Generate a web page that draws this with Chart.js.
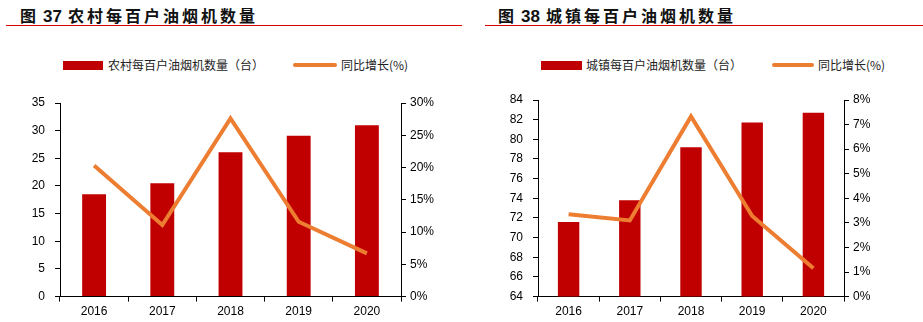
<!DOCTYPE html>
<html>
<head>
<meta charset="utf-8">
<script src="https://cdn.jsdelivr.net/npm/chart.js@4"></script>
<style>
  body { margin: 0; width: 923px; height: 322px; background: #fff; position: relative; overflow: hidden;
         font-family: "Liberation Sans", Arial, sans-serif; }
  .title { position: absolute; top: 3px; font-family: "Noto Sans CJK SC", sans-serif; font-weight: bold;
           font-size: 16px; color: #111; white-space: nowrap; }
  .title .cn { letter-spacing: 3px; }
  .title b { font-family: "Liberation Sans", Arial, sans-serif; margin: 0 6px 0 7px; font-size: 17px; }
  .rule { position: absolute; top: 25px; height: 1px; background: #e00000; }
  .leg { position: absolute; top: 57px; font-family: "Noto Sans CJK SC", sans-serif; font-size: 12px;
         color: #222; white-space: nowrap; line-height: 16px; }
  .sw-bar { position: absolute; top: 4px; height: 9px; background: #c00000; }
  .sw-line { position: absolute; top: 6px; height: 4px; border-radius: 2px; background: #ed7d31; }
  canvas { position: absolute; }
</style>
</head>
<body>
<div class="title" style="left:20px">图<b>37</b><span class="cn">农村每百户油烟机数量</span></div>
<div class="rule" style="left:6px; width:456px"></div>
<div class="title" style="left:498px">图<b>38</b><span class="cn">城镇每百户油烟机数量</span></div>
<div class="rule" style="left:485px; width:438px"></div>

<div class="leg" style="left:0; width:460px">
  <span class="sw-bar" style="left:63px; width:40px"></span>
  <span style="position:absolute; left:108px">农村每百户油烟机数量（台）</span>
  <span class="sw-line" style="left:293px; width:44px"></span>
  <span style="position:absolute; left:341px">同比增长(%)</span>
</div>
<div class="leg" style="left:460px; width:463px">
  <span class="sw-bar" style="left:81px; width:41px"></span>
  <span style="position:absolute; left:126px">城镇每百户油烟机数量（台）</span>
  <span class="sw-line" style="left:312px; width:42px"></span>
  <span style="position:absolute; left:358px">同比增长(%)</span>
</div>

<div style="position:absolute; left:0; top:80px; width:460px; height:242px"><canvas id="c1"></canvas></div>
<div style="position:absolute; left:460px; top:80px; width:463px; height:242px"><canvas id="c2"></canvas></div>

<script>
// 数据
var years = ['2016', '2017', '2018', '2019', '2020'];
var ruralHoods = [18.5, 20.5, 26.1, 29.1, 31.0];
var ruralGrowth = [20.3, 11.1, 27.6, 11.6, 6.7];
var urbanHoods = [71.6, 73.8, 79.2, 81.7, 82.7];
var urbanGrowth = [3.35, 3.1, 7.33, 3.28, 1.15];

function makeChart(id, bars, growth, yl, yr, leftW, rightW, padTop) {
    var axisColor = '#000';
    var tickFont = { family: '"Liberation Sans", Arial, sans-serif', size: 12 };
    return new Chart(document.getElementById(id).getContext('2d'), {
        data: {
            labels: years,
            datasets: [{
                type: 'line',
                data: growth,
                yAxisID: 'yr',
                borderColor: '#ed7d31',
                borderWidth: 4,
                pointRadius: 0,
                tension: 0,
                order: 0
            }, {
                type: 'bar',
                data: bars,
                yAxisID: 'yl',
                backgroundColor: '#c00000',
                barPercentage: 0.35,
                categoryPercentage: 1,
                order: 1
            }]
        },
        options: {
            responsive: true,
            maintainAspectRatio: false,
            animation: false,
            layout: { padding: { top: padTop, left: 0, right: 0, bottom: 0 } },
            plugins: { legend: { display: false }, tooltip: { enabled: false } },
            scales: {
                x: {
                    grid: { display: true, drawOnChartArea: false, tickLength: 5, color: axisColor, offset: true },
                    border: { color: axisColor, width: 1 },
                    ticks: { color: '#000', font: tickFont, padding: 3 }
                },
                yl: {
                    position: 'left',
                    min: yl[0], max: yl[1],
                    grid: { drawOnChartArea: false, tickLength: 5, color: axisColor },
                    border: { color: axisColor, width: 1 },
                    ticks: { stepSize: yl[2], color: '#000', font: tickFont, padding: 10 },
                    afterFit: function (s) { s.width = leftW; }
                },
                yr: {
                    position: 'right',
                    min: yr[0], max: yr[1],
                    grid: { drawOnChartArea: false, tickLength: 5, color: axisColor },
                    border: { color: axisColor, width: 1 },
                    ticks: { stepSize: yr[2], color: '#000', font: tickFont, padding: 4,
                             callback: function (v) { return v + '%'; } },
                    afterFit: function (s) { s.width = rightW; }
                }
            }
        }
    });
}

makeChart('c1', ruralHoods, ruralGrowth, [0, 35, 5], [0, 30, 5], 60, 59, 23);
makeChart('c2', urbanHoods, urbanGrowth, [64, 84, 2], [0, 8, 1], 78, 79, 20);
</script>
</body>
</html>
